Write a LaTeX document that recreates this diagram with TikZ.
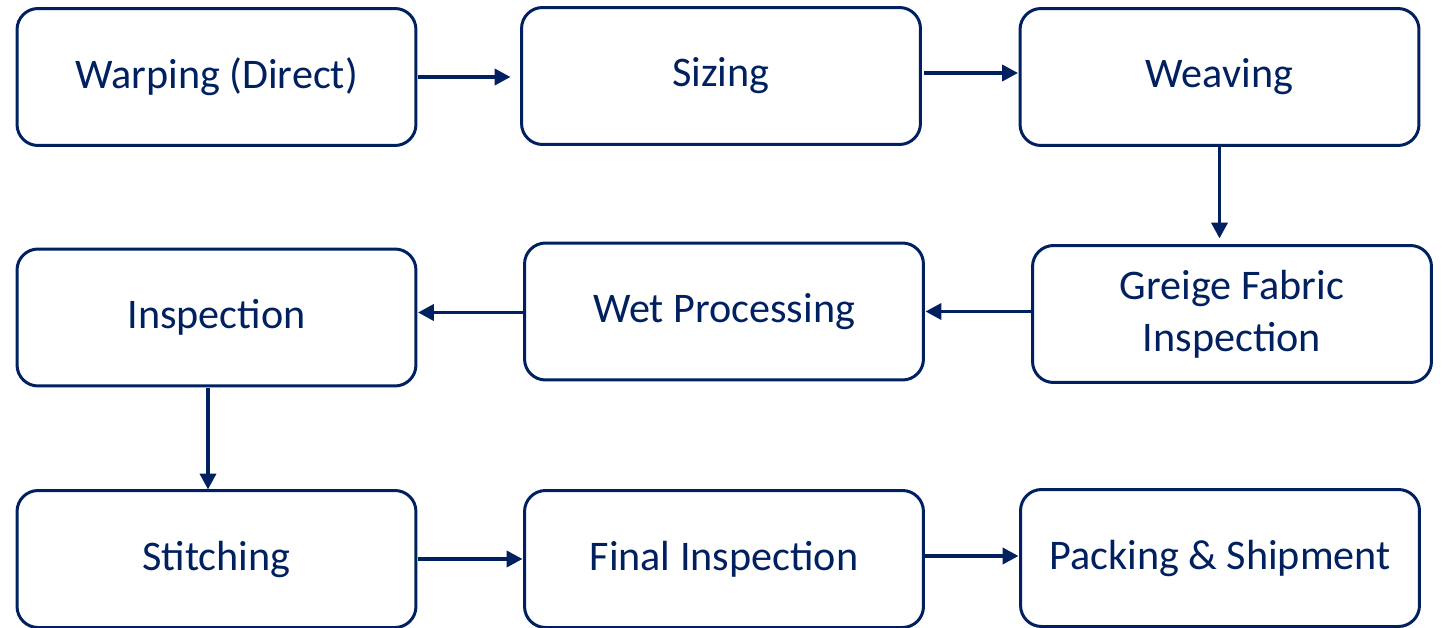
\documentclass[tikz,border=0pt]{standalone}
\usepackage{fontspec}
\setmainfont{Carlito}
\usetikzlibrary{arrows.meta}
\definecolor{navy}{HTML}{002060}

\begin{document}
\begin{tikzpicture}[x=0.02cm, y=-0.02cm,
every node/.style={font=\fontsize{24}{29.5}\selectfont, text=navy},
stage/.style={draw=navy, line width=1.7pt, rounded corners=0.42cm,
	minimum width=7.98cm, minimum height=2.74cm, inner sep=0pt, outer sep=0pt, align=center},
flow/.style={draw=navy, line width=2.2pt, -{Triangle[length=0.32cm,width=0.32cm]}}]
\useasboundingbox (0,0) rectangle (1442,628);

%first row
\node[stage](warping) at (216.5,77) {Warping (Direct)};
\node[stage](sizing) at (721,76) {Sizing};
\node[stage](weaving) at (1219.5,77) {Weaving};
%second row, right to left
\node[stage](greige) at (1232,314) {Greige Fabric\\Inspection};
\node[stage](wet) at (724,311.5) {Wet Processing};
\node[stage](inspection) at (216.5,317.5) {Inspection};
%third row
\node[stage](stitching) at (216.5,559) {Stitching};
\node[stage](final) at (724,559) {Final Inspection};
\node[stage](packing) at (1220,558) {Packing \& Shipment};

%connections
\draw[flow, shorten <=0.04cm, shorten >=0.22cm] (warping.east) -- (warping.east -| sizing.west);
\draw[flow, shorten <=0.08cm, shorten >=0.04cm] ([yshift=0.06cm]sizing.east) -- ([yshift=0.06cm]sizing.east -| weaving.west);
\draw[flow, shorten <=0.04cm, shorten >=0.14cm] (weaving.south) -- (weaving.south |- greige.north);
\draw[flow, shorten <=0.04cm, shorten >=0.04cm] (greige.west |- wet.east) -- (wet.east);
\draw[flow, shorten <=0.04cm, shorten >=0.04cm] ([yshift=-0.02cm]wet.west) -- ([yshift=-0.02cm]wet.west -| inspection.east);
\draw[flow, shorten <=0.04cm, shorten >=0.02cm] ([xshift=-0.17cm]inspection.south) -- ([xshift=-0.17cm]inspection.south |- stitching.north);
\draw[flow, shorten <=0.04cm, shorten >=0.04cm] (stitching.east) -- (stitching.east -| final.west);
\draw[flow, shorten <=0.04cm, shorten >=0.04cm] ([yshift=0.06cm]final.east) -- ([yshift=0.06cm]final.east -| packing.west);
\end{tikzpicture}
\end{document}
